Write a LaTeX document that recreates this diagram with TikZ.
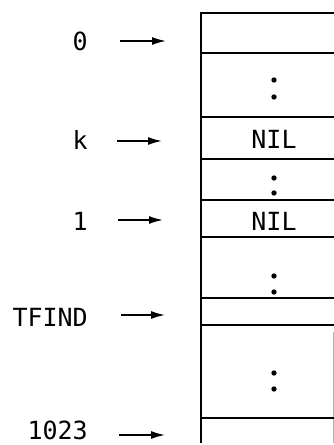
\documentclass[tikz,border=0pt]{standalone}
\usepackage{fontspec}
\setmonofont{DejaVu Sans Mono}
\usetikzlibrary{arrows.meta}

\tikzset{
  lbl/.style={font=\ttfamily\fontsize{25}{27}\selectfont, inner sep=0pt},
  ptr/.style={-{Latex[length=14pt, width=8pt]}, line width=1.6pt},
  rowline/.style={line width=1.5pt},
  dotmark/.style={fill=black}
}

\begin{document}
\begin{tikzpicture}[x=1pt, y=-1pt]
    \useasboundingbox (0,0) rectangle (334,445);

    % Index labels with pointers
    \foreach \ly/\ay/\sx/\ex/\txt/\nm in {41/41/120/166/0/first, 140/141/117/162/k/kk, 221/220/118/163/1/ll, 317/315/121/165/TFIND/tfind, 430/435/119/165/1023/last} {
        \node[lbl, anchor=east] (lab\nm) at (88,\ly) {\txt};
        \coordinate (from\nm) at (\sx,\ay);
        \coordinate (to\nm) at (\ex,\ay);
        \draw[ptr] (from\nm) -- (to\nm);
    }

    % Table frame
    \draw[line width=2pt] (201,12) -- (201,443);
    \draw[gray!60, line width=0.6pt] (333,332) -- (333,443);
    \foreach \y in {13,53,117,159,200,237,298,325,418} {
        \draw[rowline] (201,\y) -- (334,\y);
    }

    % Cell contents
    \node[lbl] (nilk) at (274,139) {NIL};
    \node[lbl] (nill) at (274,221) {NIL};

    % Continuation dots
    \foreach \ya/\yb in {80/97, 178/193, 276/292, 373/389} {
        \fill[dotmark] (274,\ya) circle (2.7);
        \fill[dotmark] (274,\yb) circle (2.7);
    }
\end{tikzpicture}
\end{document}
